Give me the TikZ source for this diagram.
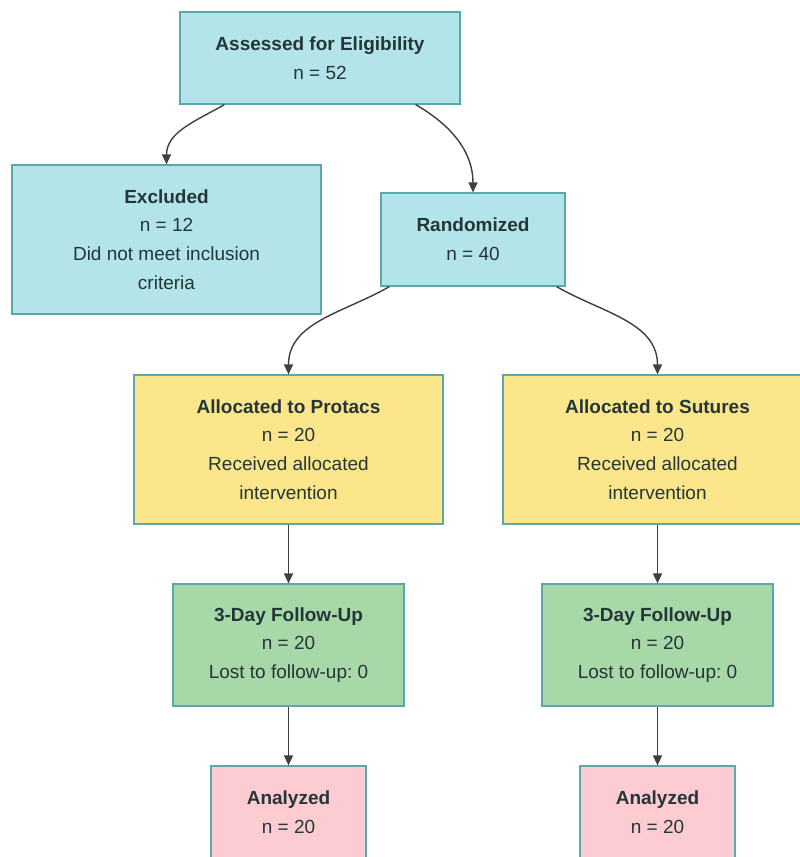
\documentclass[tikz,border=0pt]{standalone}
\usepackage{fontspec}
\setmainfont{Liberation Sans}
\usetikzlibrary{arrows.meta}
\frenchspacing
\definecolor{cyanf}{HTML}{B3E4EA}
\definecolor{yellf}{HTML}{FCE68C}
\definecolor{greenf}{HTML}{A6D8A8}
\definecolor{pinkf}{HTML}{FDCBD2}
\definecolor{edgec}{HTML}{5BA8AC}
\definecolor{txtc}{HTML}{243638}
\definecolor{arrc}{HTML}{3F3F3F}
\tikzset{
  box/.style={draw=edgec, line width=1.2pt, rectangle, align=center, inner sep=0pt,
    text=txtc, font=\fontsize{19}{28.7}\selectfont},
  bluebox/.style={box, fill=cyanf},
  yellowbox/.style={box, fill=yellf},
  greenbox/.style={box, fill=greenf},
  pinkbox/.style={box, fill=pinkf},
  conn/.style={draw=arrc, line width=1.4pt, -{Triangle[length=10pt,width=9pt]}}
}
\begin{document}
\begin{tikzpicture}[x=1pt,y=1pt]
\useasboundingbox (0,0) rectangle (800,-857);
\clip (0,0) rectangle (800,-857);
\fill[white] (0,0) rectangle (800,-857);
\node[bluebox, minimum width=280, minimum height=92] (assess) at (320,-58)
  {\textbf{Assessed for Eligibility}\\n = 52};
\node[bluebox, minimum width=309, minimum height=149] (excl) at (166.5,-239.5)
  {\textbf{Excluded}\\n = 12\\Did not meet inclusion\\criteria};
\node[bluebox, minimum width=184, minimum height=93] (rand) at (473,-239.5)
  {\textbf{Randomized}\\n = 40};
\node[yellowbox, minimum width=309, minimum height=149] (prot) at (288.5,-449.5)
  {\textbf{Allocated to Protacs}\\n = 20\\Received allocated\\intervention};
\node[yellowbox, minimum width=309, minimum height=149] (sut) at (657.5,-449.5)
  {\textbf{Allocated to Sutures}\\n = 20\\Received allocated\\intervention};
\node[greenbox, minimum width=231, minimum height=122] (fl) at (288.5,-645)
  {\textbf{3-Day Follow-Up}\\n = 20\\Lost to follow-up: 0};
\node[greenbox, minimum width=231, minimum height=122] (fr) at (657.5,-645)
  {\textbf{3-Day Follow-Up}\\n = 20\\Lost to follow-up: 0};
\node[pinkbox, minimum width=155, minimum height=92] (al) at (288.5,-812)
  {\textbf{Analyzed}\\n = 20};
\node[pinkbox, minimum width=155, minimum height=92] (ar) at (657.5,-812)
  {\textbf{Analyzed}\\n = 20};

\draw[conn] ([xshift=45pt]assess.south west) to[out=210,in=90] (excl.north);
\draw[conn] ([xshift=-45pt]assess.south east) to[out=-30,in=90] (rand.north);
\draw[conn] ([xshift=9pt]rand.south west) to[out=210,in=90] (prot.north);
\draw[conn] ([xshift=-9pt]rand.south east) to[out=-30,in=90] (sut.north);
\draw[conn] (prot.south) -- (fl.north);
\draw[conn] (sut.south) -- (fr.north);
\draw[conn] (fl.south) -- (al.north);
\draw[conn] (fr.south) -- (ar.north);
\end{tikzpicture}
\end{document}
